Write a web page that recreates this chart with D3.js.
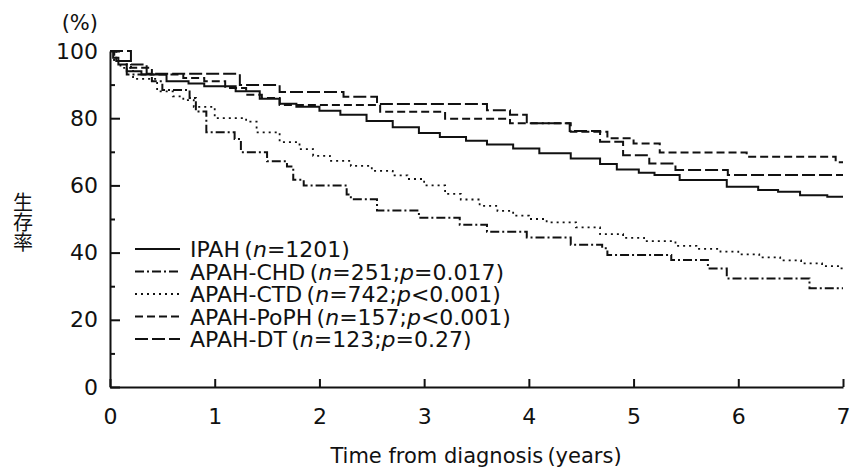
<!DOCTYPE html>
<html>
<head>
<meta charset="utf-8">
<script src="https://cdn.jsdelivr.net/npm/d3@7/dist/d3.min.js"></script>
<style>
  body { margin: 0; background: #fff; }
  text { font-family: "DejaVu Sans", "Liberation Sans", "Noto Sans CJK JP", sans-serif; fill: #111; }
</style>
</head>
<body>
<div id="chart"></div>
<script>
// 各群の生存曲線 [年, %]
const ipah = [[0,100],[0.03,98],[0.08,96],[0.16,94],[0.3,93],[0.54,91],[0.75,90.3],[0.9,89.5],[1.2,88],[1.43,85.8],[1.62,84.3],[1.78,83.4],[2.0,82.2],[2.2,81],[2.45,79.2],[2.7,77.3],[2.95,75.6],[3.15,74.4],[3.4,73.3],[3.6,72.2],[3.85,71],[4.1,69.6],[4.4,68],[4.68,66.4],[4.84,64.7],[5.05,63.8],[5.2,63.1],[5.44,61.6],[5.89,59.6],[6.19,58.6],[6.38,58.1],[6.59,57.1],[6.85,56.6],[7,56.6]]
const chd = [[0,100],[0.04,97],[0.16,93],[0.4,91],[0.5,88.4],[0.76,86],[0.82,82],[0.92,75.8],[1.19,73.8],[1.25,69.9],[1.5,67.2],[1.69,65.6],[1.75,61.7],[1.85,60],[2.26,57.3],[2.3,55.9],[2.55,52.5],[2.95,50.4],[3.34,48.3],[3.6,46.2],[3.98,44.5],[4.4,42.3],[4.7,41.3],[4.75,39.3],[5.36,37.8],[5.71,35.3],[5.89,32.3],[6.68,29.4],[7,29.4]]
const ctd = [[0,100],[0.04,97],[0.1,95],[0.22,91.7],[0.45,88],[0.6,86.5],[0.7,85.4],[0.8,83.4],[1.0,80],[1.3,79],[1.4,75.8],[1.62,72.9],[1.81,70.8],[1.94,68.8],[2.1,67.3],[2.3,65.8],[2.5,64.3],[2.7,63],[2.84,61.9],[3.0,60],[3.2,57.5],[3.35,55.8],[3.53,53.9],[3.7,52.4],[3.85,51],[4.0,50],[4.17,49],[4.45,47.5],[4.68,45.5],[4.9,44.4],[5.1,43.4],[5.4,42],[5.6,41.1],[5.83,40.3],[6.0,39.5],[6.2,38.6],[6.4,37.7],[6.6,36.8],[6.8,36],[6.97,35.3],[7,35.3]]
const poph = [[0,100],[0.06,97],[0.2,95],[0.4,93],[0.7,92],[0.9,91],[1.1,89],[1.3,87],[1.45,86],[1.62,83.9],[2.58,81.9],[3.2,79.8],[3.82,78.5],[4.4,76],[4.75,74],[5.0,72.5],[5.25,69.8],[6.08,68.5],[6.93,66.9],[7,66.9]]
const dt = [[0,100],[0.2,96],[0.35,93.2],[1.24,89.9],[1.62,87.8],[2.23,86.4],[2.55,84.2],[3.6,82.4],[3.82,81],[3.98,78.5],[4.39,76.2],[4.68,73],[4.9,69],[5.15,66.5],[5.4,64.6],[5.9,63.1],[7,63.1]]

// 凡例
const groupNames = ["IPAH", "APAH-CHD", "APAH-CTD", "APAH-PoPH", "APAH-DT"]
const groupN = [1201, 251, 742, 157, 123]
const groupP = [null, "=0.017", "<0.001", "<0.001", "=0.27"]
const dashes = [null, "9,3,2,3", "2,4", "8,4", "13,4"]
const curves = [ipah, chd, ctd, poph, dt]

const xTicks = [0, 1, 2, 3, 4, 5, 6, 7]
const yMajor = [0, 20, 40, 60, 80, 100]
const yMinor = [10, 30, 50, 70, 90]

const width = 850, height = 470
const svg = d3.select("#chart").append("svg").attr("width", width).attr("height", height)

const x = d3.scaleLinear().domain([0, 7]).range([110, 843])
const y = d3.scaleLinear().domain([0, 100]).range([387, 51])

// y軸
const gy = svg.append("g").attr("transform", `translate(${x(0)},0)`)
  .call(d3.axisLeft(y).tickValues(yMajor).tickSizeInner(-10).tickSizeOuter(0).tickPadding(12))
gy.select(".domain").attr("stroke", "#111").attr("stroke-width", 2)
gy.selectAll(".tick line").attr("stroke", "#111").attr("stroke-width", 2)
gy.selectAll(".tick text").attr("font-size", 22).attr("font-family", null)
svg.append("g").attr("transform", `translate(${x(0)},0)`)
  .call(d3.axisLeft(y).tickValues(yMinor).tickSizeInner(-5).tickSizeOuter(0).tickFormat(""))
  .call(g => g.select(".domain").remove())
  .selectAll(".tick line").attr("stroke", "#111").attr("stroke-width", 2)

// x軸
const gx = svg.append("g").attr("transform", `translate(0,${y(0)})`)
  .call(d3.axisBottom(x).tickValues(xTicks).tickFormat(d3.format("d"))
    .tickSizeInner(-8).tickSizeOuter(0).tickPadding(21))
gx.select(".domain").attr("stroke", "#111").attr("stroke-width", 2)
gx.selectAll(".tick line").attr("stroke", "#111").attr("stroke-width", 2)
gx.selectAll(".tick text").attr("font-size", 22).attr("font-family", null)

// 軸タイトル
svg.append("text").attr("x", 98).attr("y", 30).attr("text-anchor", "end")
  .attr("font-size", 21).text("(%)")
svg.append("text").attr("x", 476).attr("y", 463).attr("text-anchor", "middle")
  .attr("font-size", 21).text("Time from diagnosis\u2009(years)")
svg.append("text").attr("transform", "translate(23,222)")
  .style("writing-mode", "vertical-rl").attr("text-anchor", "middle")
  .attr("font-size", 20).style("font-family", "'Noto Sans CJK JP'").text("生存率")

// 曲線
const line = d3.line().x(d => x(d[0])).y(d => y(d[1])).curve(d3.curveStepAfter)
svg.append("g").selectAll("path").data(curves).enter().append("path")
  .attr("d", line)
  .attr("fill", "none")
  .attr("stroke", "#111")
  .attr("stroke-width", (d, i) => i == 2 ? 1.8 : 2)
  .attr("stroke-dasharray", (d, i) => dashes[i])

// 凡例
const legend = svg.append("g").selectAll("g").data(groupNames).enter().append("g")
  .attr("transform", (d, i) => `translate(135,${249 + i * 22.5})`)
legend.append("line")
  .attr("x1", 0).attr("x2", 45).attr("y1", 0).attr("y2", 0)
  .attr("stroke", "#111").attr("stroke-width", 2)
  .attr("stroke-dasharray", (d, i) => dashes[i])
const lt = legend.append("text").attr("x", 55).attr("y", 8).attr("font-size", 22)
lt.each(function (d, i) {
  const t = d3.select(this)
  t.append("tspan").text(d + "\u2009(")
  t.append("tspan").attr("font-style", "italic").text("n")
  t.append("tspan").text("=" + groupN[i] + (groupP[i] ? ";" : ""))
  if (groupP[i]) {
    t.append("tspan").attr("font-style", "italic").text("p")
    t.append("tspan").text(groupP[i])
  }
  t.append("tspan").text(")")
})
</script>
</body>
</html>
